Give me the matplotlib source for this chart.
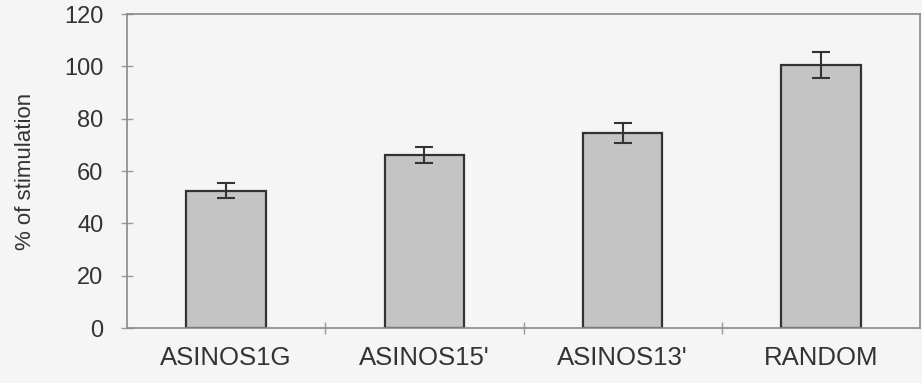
import matplotlib.pyplot as plt

plt.rcParams['font.family'] = ['Liberation Sans', 'DejaVu Sans']

# values
categories = ['ASINOS1G', "ASINOS15'", "ASINOS13'", 'RANDOM']
stimulation = [52.5, 66, 74.5, 100.5]
errors = [3, 3, 3.7, 5]

fig = plt.figure(figsize=(9.22, 3.83), dpi=100, facecolor='#f5f5f5')
ax = fig.add_axes([0.1377, 0.1436, 0.8603, 0.8198])
ax.set_facecolor('#f5f5f5')

x = range(len(categories))
ax.bar(x, stimulation, width=0.4, color='#c4c4c4', edgecolor='#333333', linewidth=1.6,
       yerr=errors, error_kw=dict(ecolor='#333333', elinewidth=1.5, capsize=6.5, capthick=1.5))

ax.set_xlim(-0.5, len(categories) - 0.5)
ax.set_ylim(0, 120)
ax.set_yticks(range(0, 121, 20))
ax.set_xticks([i + 0.5 for i in range(len(categories) - 1)])
ax.set_xticks(list(x), minor=True)
ax.set_xticklabels([])
ax.set_xticklabels(categories, minor=True, fontsize=18.5, color='#333333')

for s in ax.spines.values():
    s.set_color('#8a8a8a')
    s.set_linewidth(1.2)

ax.tick_params(axis='y', direction='inout', length=8, width=1, color='#9a9a9a',
               labelsize=17, labelcolor='#333333', pad=13)
ax.tick_params(axis='x', which='major', direction='inout', length=8, width=1, color='#9a9a9a')
ax.tick_params(axis='x', which='minor', length=0, pad=13)

ax.set_ylabel('% of stimulation', fontsize=16, color='#333333', labelpad=20)

fig.savefig('out.png', dpi=100, facecolor=fig.get_facecolor())
